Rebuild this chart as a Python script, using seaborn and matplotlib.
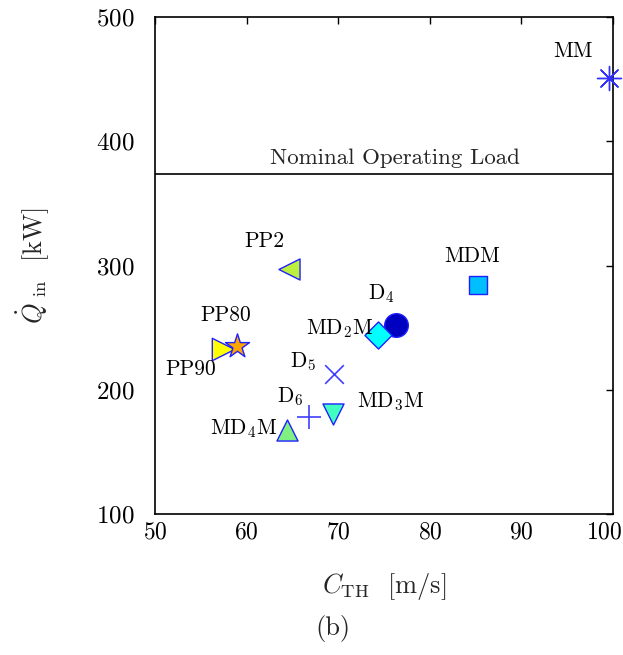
import matplotlib
matplotlib.use("Agg")
import matplotlib.pyplot as plt
import matplotlib.transforms as mtransforms
import seaborn as sns
import pandas as pd

sns.set_theme(style="white")
plt.rcParams['font.family'] = ['cmr10', 'DejaVu Serif']
plt.rcParams['mathtext.fontset'] = 'cm'
plt.rcParams['axes.formatter.use_mathtext'] = True

names = ["MM", "MDM", "PP2", "D4", "MD2M", "PP90", "PP80", "D5", "D6", "MD3M", "MD4M"]
c_th = [99.6, 85.3, 64.6, 76.3, 74.3, 57.4, 58.9, 69.5, 66.8, 69.4, 64.4]
q_in = [451, 284.5, 297, 252, 244, 233, 235, 212.5, 178.5, 180.5, 167.5]
labels = ["MM", "MDM", "PP2", "D$_4$", "MD$_2$M", "PP90", "PP80", "D$_5$", "D$_6$", "MD$_3$M", "MD$_4$M"]
nominal_load = 373.5

markers = ["*", "s", "<", "o", "D", ">", "*", "x", "+", "v", "^"]
faces = ["#3030ff", "#00bfff", "#bcf03c", "#0000c0", "#00ffff", "#ffff00", "#ffa500", "#4040ff", "#4040ff", "#40ffc0", "#80f080"]
sizes = [300, 150, 230, 290, 190, 260, 330, 180, 320, 230, 230]
label_off = [(-36, 27), (-6, 29), (-24, 28), (-15, 32), (-38, 7), (-32, -20), (-11, 31), (-31, 13), (-19, 20), (58, 12), (-44, 2)]

df = pd.DataFrame({"name": names, "c": c_th, "q": q_in})

fig = plt.figure(figsize=(6.23, 6.55), dpi=100)
ax = fig.add_axes([0.249, 0.215, 0.735, 0.759])

for i, n in enumerate(names):
    sub = df[df["name"] == n]
    if markers[i] in ("x", "+"):
        sns.scatterplot(data=sub, x="c", y="q", marker=markers[i], s=sizes[i],
                        color=faces[i], linewidth=1.2, ax=ax, zorder=3, clip_on=False)
    elif n == "MM":
        sns.scatterplot(data=sub, x="c", y="q", marker=(8, 2, 0), s=sizes[i],
                        color=faces[i], edgecolor=faces[i], linewidth=1.0, ax=ax, zorder=3, clip_on=False)
    else:
        sns.scatterplot(data=sub, x="c", y="q", marker=markers[i], s=sizes[i],
                        color=faces[i], edgecolor="#2020ff", linewidth=1.0, ax=ax, zorder=3, clip_on=False)
    ax.annotate(labels[i], (c_th[i], q_in[i]), xytext=label_off[i], textcoords="offset pixels",
                fontsize=15.5, ha="center", va="center", color="black")

ax.axhline(nominal_load, color="black", lw=1.2, zorder=2)
ax.text(76.2, nominal_load + 5, "Nominal Operating Load", fontsize=16.5, ha="center", va="bottom")

ax.set_xlim(50, 100)
ax.set_ylim(100, 500)
ax.set_xticks([50, 60, 70, 80, 90, 100])
ax.set_yticks([100, 200, 300, 400, 500])
ax.tick_params(direction="in", length=5, width=1, top=True, right=True, colors="black")
ax.tick_params(axis="y", pad=15, labelsize=18)
ax.tick_params(axis="x", pad=5, labelsize=17)
for s in ax.spines.values():
    s.set_color("black")
    s.set_linewidth(1.2)
ax.set_xlabel(r"$C_{\rm TH}$  [m/s]", fontsize=19, labelpad=20)
ax.set_ylabel(r"$\dot{Q}_{\rm\ in}$  [kW]", fontsize=19, labelpad=32)
fig.text(0.535, 0.04, "(b)", fontsize=19, ha="center", va="center")

fig.canvas.draw()
last = ax.get_xticklabels()[-1]
last.set_transform(last.get_transform() + mtransforms.ScaledTranslation(-9 / 100, 0, fig.dpi_scale_trans))

fig.savefig("out.png", dpi=100)
